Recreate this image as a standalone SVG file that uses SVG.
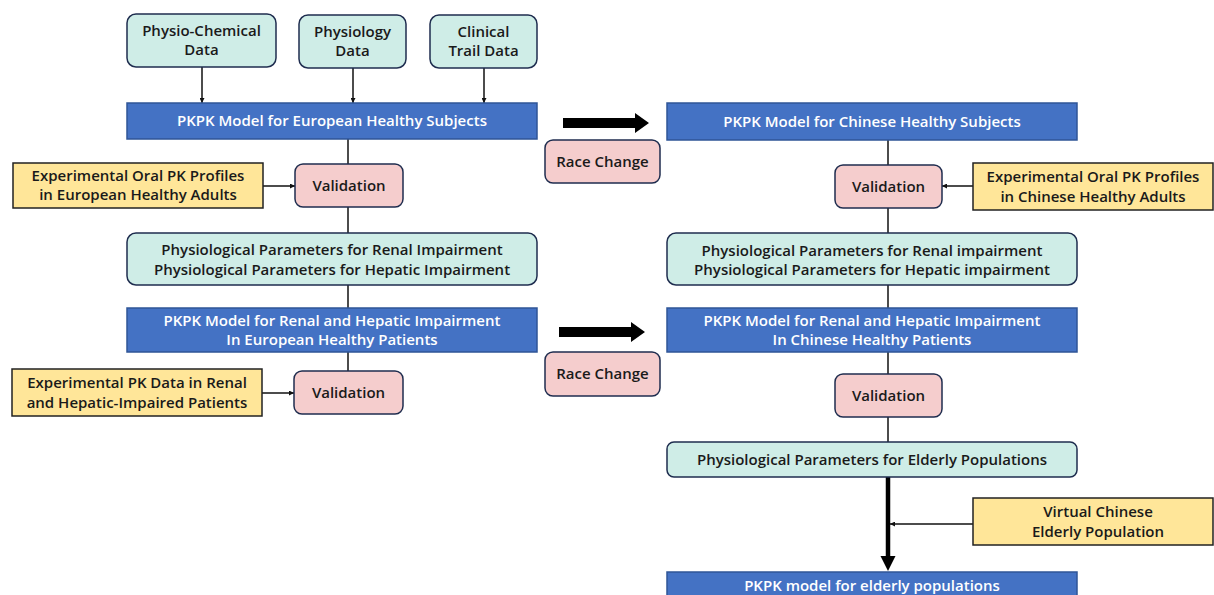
<svg xmlns="http://www.w3.org/2000/svg" width="1214" height="595" viewBox="0 0 1214 595">
<style>
text{font-family:"Open Sans","Noto Sans","Liberation Sans",sans-serif;font-size:15px;font-weight:600;fill:#1a1a1a;text-anchor:middle}
.wt{fill:#ffffff}
.bar{fill:#4472C4;stroke:#2F5597;stroke-width:1.5}
.grn{fill:#CFEDE7;stroke:#1F2D4F;stroke-width:1.5}
.pnk{fill:#F5CDCD;stroke:#1F2D4F;stroke-width:1.5}
.ylw{fill:#FFE699;stroke:#222222;stroke-width:1.5}
.ln{stroke:#111;stroke-width:1.5;fill:none}
</style>
<defs>
<marker id="ah" viewBox="0 0 10 10" refX="10" refY="5" markerWidth="5" markerHeight="5" orient="auto" markerUnits="userSpaceOnUse">
<path d="M0,0 L10,5 L0,10 z" fill="#111"/>
</marker>
</defs>
<rect width="1214" height="595" fill="#ffffff"/>

<g id="connectors">
<line class="ln" x1="202" y1="67" x2="202" y2="103" marker-end="url(#ah)"/>
<line class="ln" x1="353" y1="68" x2="353" y2="103" marker-end="url(#ah)"/>
<line class="ln" x1="484" y1="68" x2="484" y2="103" marker-end="url(#ah)"/>
<line class="ln" x1="348" y1="139" x2="348" y2="164"/>
<line class="ln" x1="348" y1="207" x2="348" y2="233"/>
<line class="ln" x1="348" y1="285" x2="348" y2="308"/>
<line class="ln" x1="348" y1="352" x2="348" y2="371"/>
<line class="ln" x1="263" y1="186" x2="295" y2="186" marker-end="url(#ah)"/>
<line class="ln" x1="262" y1="393" x2="294" y2="393" marker-end="url(#ah)"/>
<line class="ln" x1="888" y1="140" x2="888" y2="165"/>
<line class="ln" x1="888" y1="208" x2="888" y2="233"/>
<line class="ln" x1="888" y1="285" x2="888" y2="308"/>
<line class="ln" x1="888" y1="352" x2="888" y2="374"/>
<line class="ln" x1="888" y1="417" x2="888" y2="442"/>
<line class="ln" x1="973" y1="186" x2="942" y2="186" marker-end="url(#ah)"/>
<line class="ln" x1="973" y1="524" x2="890" y2="524" marker-end="url(#ah)"/>
<line x1="888" y1="477" x2="888" y2="558" stroke="#000" stroke-width="4.5"/>
<polygon points="880.5,556 895.5,556 888,571" fill="#000"/>
<polygon points="563,118 635,118 635,113 649,123 635,133 635,128 563,128" fill="#000"/>
<polygon points="559,327 631,327 631,322 645,332 631,342 631,337 559,337" fill="#000"/>
</g>

<g id="n-physchem"><rect class="grn" x="127" y="14" width="149" height="53" rx="9"/><text x="201.5" y="36">Physio-Chemical</text><text x="201.5" y="55">Data</text></g>
<g id="n-physiology"><rect class="grn" x="299" y="15" width="107" height="53" rx="9"/><text x="352.5" y="37">Physiology</text><text x="352.5" y="56">Data</text></g>
<g id="n-clinical"><rect class="grn" x="430" y="15" width="107" height="53" rx="9"/><text x="483.5" y="37">Clinical</text><text x="483.5" y="56">Trail Data</text></g>

<g id="n-eu-model"><rect class="bar" x="127" y="103" width="410" height="36"/><text class="wt" x="332" y="126">PKPK Model for European Healthy Subjects</text></g>
<g id="n-eu-exp"><rect class="ylw" x="13" y="163" width="250" height="45"/><text x="138" y="181">Experimental Oral PK Profiles</text><text x="138" y="200">in European Healthy Adults</text></g>
<g id="n-eu-val1"><rect class="pnk" x="295" y="164" width="108" height="43" rx="8"/><text x="349" y="191">Validation</text></g>
<g id="n-eu-params"><rect class="grn" x="127" y="233" width="410" height="52" rx="9"/><text x="332" y="255">Physiological Parameters for Renal Impairment</text><text x="332" y="275">Physiological Parameters for Hepatic Impairment</text></g>
<g id="n-eu-impair"><rect class="bar" x="127" y="308" width="410" height="44"/><text class="wt" x="332" y="326">PKPK Model for Renal and Hepatic Impairment</text><text class="wt" x="332" y="345">In European Healthy Patients</text></g>
<g id="n-eu-exp2"><rect class="ylw" x="12" y="369" width="250" height="47"/><text x="137" y="388">Experimental PK Data in Renal</text><text x="137" y="408">and Hepatic-Impaired Patients</text></g>
<g id="n-eu-val2"><rect class="pnk" x="294" y="371" width="109" height="43" rx="8"/><text x="348.5" y="398">Validation</text></g>

<g id="n-race1"><rect class="pnk" x="545" y="140" width="115" height="43" rx="8"/><text x="602.5" y="167">Race Change</text></g>
<g id="n-race2"><rect class="pnk" x="545" y="352" width="115" height="44" rx="8"/><text x="602.5" y="379">Race Change</text></g>

<g id="n-cn-model"><rect class="bar" x="667" y="103" width="410" height="37"/><text class="wt" x="872" y="127">PKPK Model for Chinese Healthy Subjects</text></g>
<g id="n-cn-val1"><rect class="pnk" x="835" y="165" width="107" height="43" rx="8"/><text x="888.5" y="192">Validation</text></g>
<g id="n-cn-exp"><rect class="ylw" x="973" y="163" width="240" height="47"/><text x="1093" y="182">Experimental Oral PK Profiles</text><text x="1093" y="202">in Chinese Healthy Adults</text></g>
<g id="n-cn-params"><rect class="grn" x="667" y="233" width="410" height="52" rx="9"/><text x="872" y="256">Physiological Parameters for Renal impairment</text><text x="872" y="275">Physiological Parameters for Hepatic impairment</text></g>
<g id="n-cn-impair"><rect class="bar" x="667" y="308" width="410" height="44"/><text class="wt" x="872" y="326">PKPK Model for Renal and Hepatic Impairment</text><text class="wt" x="872" y="345">In Chinese Healthy Patients</text></g>
<g id="n-cn-val2"><rect class="pnk" x="835" y="374" width="107" height="43" rx="8"/><text x="888.5" y="401">Validation</text></g>
<g id="n-elderly-params"><rect class="grn" x="667" y="442" width="410" height="35" rx="7"/><text x="872" y="465">Physiological Parameters for Elderly Populations</text></g>
<g id="n-virtual"><rect class="ylw" x="973" y="498" width="240" height="47"/><text x="1098" y="517">Virtual Chinese</text><text x="1098" y="537">Elderly Population</text></g>
<g id="n-elderly-model"><rect class="bar" x="667" y="572" width="410" height="30"/><text class="wt" x="872" y="591">PKPK model for elderly populations</text></g>
</svg>
